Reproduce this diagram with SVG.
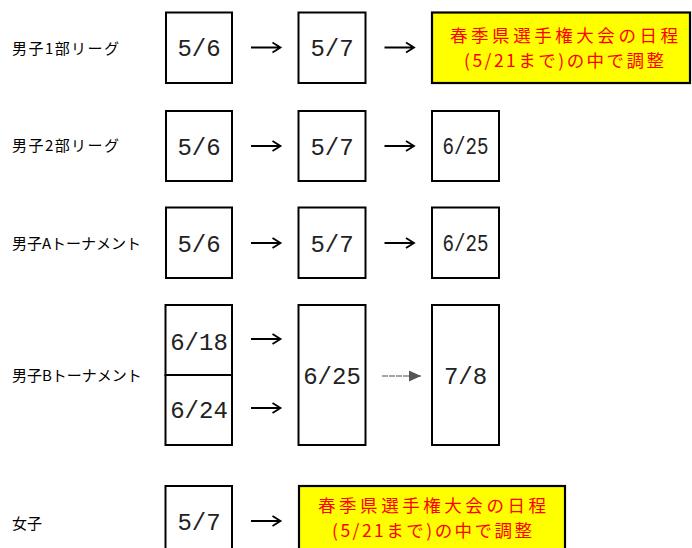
<svg xmlns="http://www.w3.org/2000/svg" width="692" height="548" viewBox="0 0 692 548">
<defs>
<style>
.box{fill:#fff;stroke:#000;stroke-width:2}
.ybox{fill:#ffff00;stroke:#000;stroke-width:2.2}
.lbl{font-family:"Noto Sans CJK JP","Noto Sans",sans-serif;font-size:15px;fill:#000}
.d{font-family:"Liberation Mono","DejaVu Sans Mono",monospace;font-size:24px;fill:#222;text-anchor:middle}
.ds{font-family:"Liberation Mono","DejaVu Sans Mono",monospace;font-size:24px;fill:#222;text-anchor:middle}
.r{font-family:"Noto Sans CJK JP","Noto Sans",sans-serif;font-size:17.5px;fill:#ff0000;text-anchor:middle}
.arr{fill:none;stroke:#000;stroke-width:1.8}
</style>
<marker id="gh" markerWidth="12" markerHeight="11" refX="12" refY="5.5" orient="auto" markerUnits="userSpaceOnUse">
<path d="M0,0 L12,5.5 L0,11 Z" fill="#555"/>
</marker>
</defs>
<rect width="692" height="548" fill="#fff"/>

<g id="labels">
<text class="lbl" x="12" y="53.5" textLength="107">男子1部リーグ</text>
<text class="lbl" x="12" y="150.5" textLength="107">男子2部リーグ</text>
<text class="lbl" x="12" y="248.5">男子Aトーナメント</text>
<text class="lbl" x="12" y="380.5">男子Bトーナメント</text>
<text class="lbl" x="12" y="528.5">女子</text>
</g>

<g id="row1">
<g id="r1a"><rect class="box" x="166" y="12.5" width="66" height="70.5"/><text class="d" x="199" y="56">5/6</text></g>
<g id="r1b"><rect class="box" x="298.5" y="12.5" width="67" height="70.5"/><text class="d" x="332" y="56">5/7</text></g>
<g id="r1c"><rect class="ybox" x="432" y="12.5" width="258" height="70.5"/>
<text class="r"><tspan x="564" y="42" textLength="228">春季県選手権大会の日程</tspan><tspan x="564" y="66.5" textLength="200">(5/21まで)の中で調整</tspan></text></g>
</g>

<g id="row2">
<g id="r2a"><rect class="box" x="166" y="111" width="66" height="70"/><text class="d" x="199" y="154.5">5/6</text></g>
<g id="r2b"><rect class="box" x="298.5" y="111" width="67" height="70"/><text class="d" x="332" y="154.5">5/7</text></g>
<g id="r2c"><rect class="box" x="432" y="111" width="67" height="70"/><text class="ds" x="465.5" y="154" textLength="46" lengthAdjust="spacingAndGlyphs">6/25</text></g>
</g>

<g id="row3">
<g id="r3a"><rect class="box" x="166" y="207.5" width="66" height="70.5"/><text class="d" x="199" y="251.5">5/6</text></g>
<g id="r3b"><rect class="box" x="298.5" y="207.5" width="67" height="70.5"/><text class="d" x="332" y="251.5">5/7</text></g>
<g id="r3c"><rect class="box" x="432" y="207.5" width="67" height="70.5"/><text class="ds" x="465.5" y="251" textLength="46" lengthAdjust="spacingAndGlyphs">6/25</text></g>
</g>

<g id="row4">
<g id="r4a"><rect class="box" x="165.5" y="305" width="66.5" height="70"/><text class="d" x="199" y="350">6/18</text></g>
<g id="r4b"><rect class="box" x="165.5" y="375" width="66.5" height="70"/><text class="d" x="199" y="418">6/24</text></g>
<g id="r4c"><rect class="box" x="298.5" y="305" width="67" height="140"/><text class="d" x="332" y="384">6/25</text></g>
<g id="r4d"><rect class="box" x="432" y="305" width="67" height="140"/><text class="d" x="465.5" y="384">7/8</text></g>
</g>

<g id="row5">
<g id="r5a"><rect class="box" x="165.5" y="486" width="66.5" height="72"/><text class="d" x="199" y="530">5/7</text></g>
<g id="r5b"><rect class="ybox" x="299" y="486" width="266" height="72"/>
<text class="r"><tspan x="432" y="512" textLength="228">春季県選手権大会の日程</tspan><tspan x="432" y="536.5" textLength="200">(5/21まで)の中で調整</tspan></text></g>
</g>

<g id="connectors">
<path class="arr" d="M251,47.5 H280 M272.5,42.5 L280.5,47.5 L272.5,52.5"/>
<path class="arr" d="M384.5,47.5 H413.5 M406,42.5 L414,47.5 L406,52.5"/>
<path class="arr" d="M251,146 H280 M272.5,141 L280.5,146 L272.5,151"/>
<path class="arr" d="M384.5,146 H413.5 M406,141 L414,146 L406,151"/>
<path class="arr" d="M251,243 H280 M272.5,238 L280.5,243 L272.5,248"/>
<path class="arr" d="M384.5,243 H413.5 M406,238 L414,243 L406,248"/>
<path class="arr" d="M251,339 H280 M272.5,334 L280.5,339 L272.5,344"/>
<path class="arr" d="M251,408 H280 M272.5,403 L280.5,408 L272.5,413"/>
<path class="arr" d="M251,521 H280 M272.5,516 L280.5,521 L272.5,526"/>
<line x1="382" y1="376" x2="421" y2="376" stroke="#888" stroke-width="1.5" stroke-dasharray="6 1" marker-end="url(#gh)"/>
</g>
</svg>
